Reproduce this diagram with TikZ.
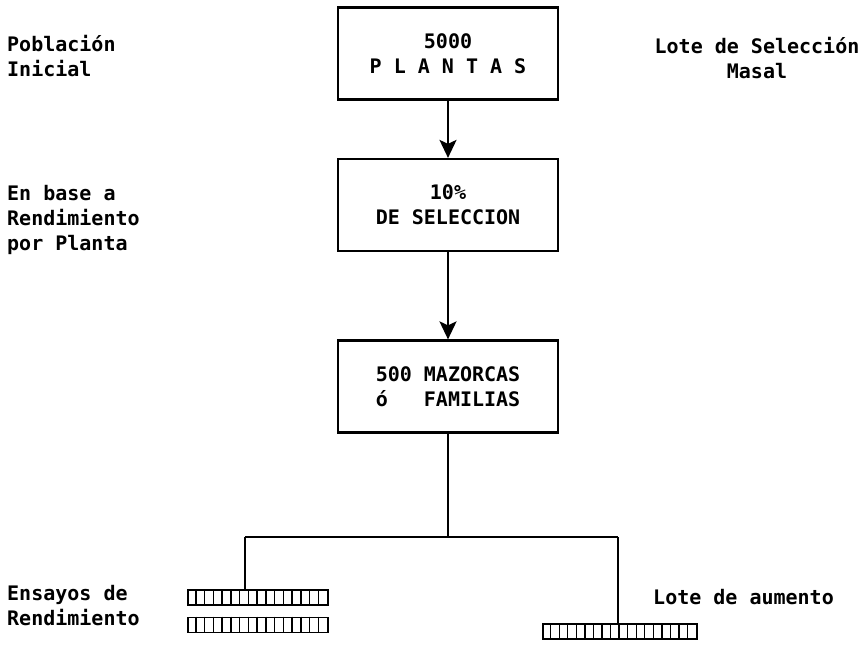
\documentclass[tikz,border=0pt]{standalone}
\usepackage{fontspec}
\newfontfamily\typfont{DejaVu Sans Mono}
\usetikzlibrary{arrows.meta,calc}
\tikzset{stage/.style={draw,line width=2.2pt,minimum width=220pt,minimum height=92pt,align=center,inner sep=0pt},
flow/.style={-{Stealth[length=18pt,width=17pt,inset=4pt]},line width=2.4pt},
branch/.style={line width=1.8pt},
tray/.style={draw,line width=1.8pt,minimum height=15pt,inner sep=0pt},
cell/.style={line width=1.4pt},
note/.style={align=left,inner sep=0pt}}

\begin{document}
\begin{tikzpicture}[x=1pt,y=-1pt,font=\typfont\bfseries\fontsize{20}{25}\selectfont]
\useasboundingbox (0,0) rectangle (866,648);
% etapas
\node[stage] (plantas) at (448,53.5) {5000\\P L A N T A S};
\node[stage] (seleccion) at (448,205) {10\%\\DE SELECCION};
\node[stage,align=left] (mazorcas) at (448,386.5) {500 MAZORCAS\\ó\ \ \ FAMILIAS};
\draw[flow] (plantas.south) -- (seleccion.north);
\draw[flow] (seleccion.south) -- (mazorcas.north);
% parcelas
\node[tray,minimum width=140pt] (ensayo1) at (258,597.5) {};
\node[tray,minimum width=140pt] (ensayo2) at (258,625) {};
\node[tray,minimum width=154pt] (aumento) at (620,631.5) {};
\foreach \t/\m/\w in {ensayo1/15/8.75,ensayo2/15/8.75,aumento/17/8.556}
\foreach \k in {1,...,\m}
\draw[cell] ($(\t.north west)+(\k*\w,0)$) -- ($(\t.south west)+(\k*\w,0)$);
\path (mazorcas.south) ++(0,104) coordinate (split);
\coordinate (jL) at (245,537);
\coordinate (jR) at (618,537);
\draw[branch] (mazorcas.south) -- (split);
\draw[branch] (jL) -- (jR);
\draw[branch] (jL) -- (jL |- ensayo1.north);
\draw[branch] (jR) -- (jR |- aumento.north);
% textos
\node[note,anchor=base west] (poblacion) at (7,76) {Población\\Inicial};
\node[note,align=center,anchor=base] (lote) at (757,78) {Lote de Selección\\Masal};
\node[note,anchor=base west] (criterio) at (7,250) {En base a\\Rendimiento\\por Planta};
\node[note,anchor=base west] (ensayos) at (7,625) {Ensayos de\\Rendimiento};
\node[note,anchor=base west] (rotulo) at (653,604) {Lote de aumento};
\end{tikzpicture}
\end{document}
